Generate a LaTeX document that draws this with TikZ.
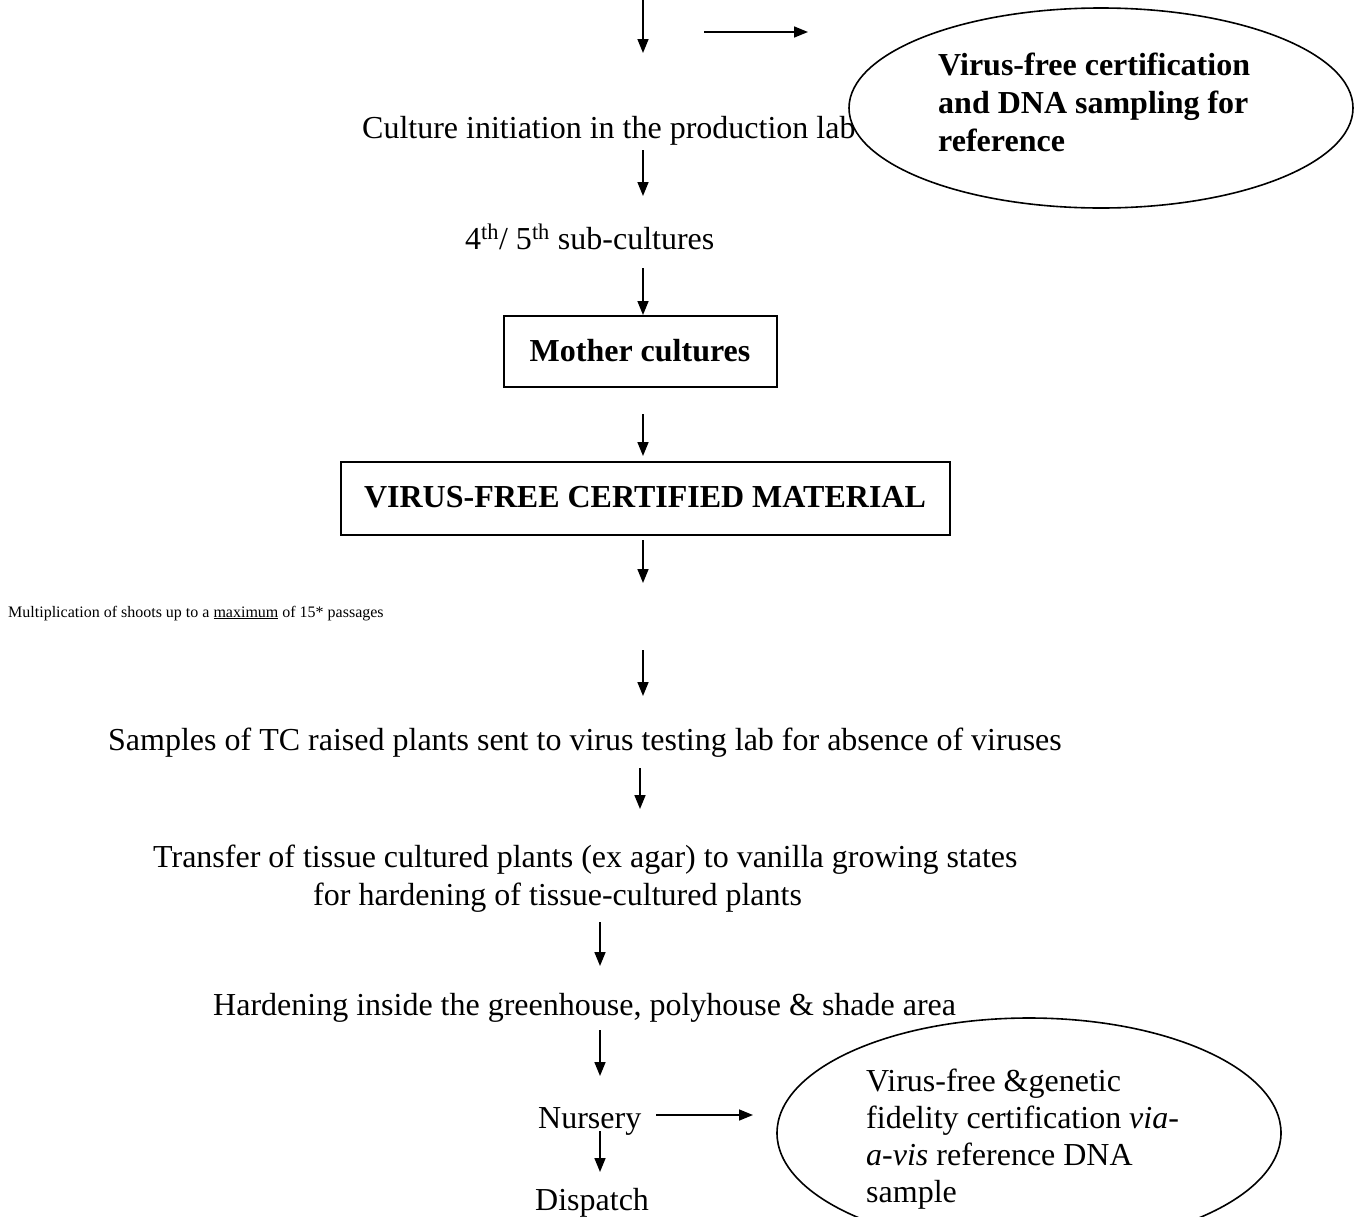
\documentclass[tikz,border=0pt]{standalone}
\usepackage{fontspec}
\setmainfont{Liberation Serif}
\usetikzlibrary{arrows.meta,shapes.geometric}
\begin{document}
\begin{tikzpicture}[x=1pt,y=-1pt,
  txt/.style={inner sep=0pt,anchor=base west,font=\fontsize{32}{38}\selectfont},
  btxt/.style={inner sep=0pt,anchor=base west,font=\fontsize{32}{38}\selectfont\bfseries},
  stxt/.style={inner sep=0pt,anchor=base west,font=\fontsize{16}{19}\selectfont},
  boxed/.style={draw,line width=2pt,inner sep=0pt},
  oval/.style={draw,ellipse,line width=1.6pt,inner sep=0pt},
  flow/.style={line width=1.6pt,-{Triangle[length=14pt,width=11pt]}}]
\useasboundingbox (0,0) rectangle (1363,1216);

% shapes
\node[oval,minimum width=504pt,minimum height=200pt] (ell1) at (1101,108) {};
\node[oval,minimum width=504pt,minimum height=230pt] (ell2) at (1029,1133) {};
\node[boxed,minimum width=273pt,minimum height=71pt] (mother) at (640.5,351.5) {};
\node[btxt,anchor=base] (mothert) at (640,361) {Mother cultures};
\node[boxed,minimum width=609pt,minimum height=73pt] (vfcm) at (645.5,498.5) {};
\node[btxt,anchor=base] (vfcmt) at (645,507) {VIRUS-FREE CERTIFIED MATERIAL};

% texts
\node[btxt] (e1a) at (938,75) {Virus-free certification};
\node[btxt] (e1b) at (938,113) {and DNA sampling for};
\node[btxt] (e1c) at (938,151) {reference};
\node[txt] (culture) at (362,138) {Culture initiation in the production lab};
\node[txt] (sub) at (465,249) {4\textsuperscript{th}/ 5\textsuperscript{th} sub-cultures};
\node[stxt] (mult) at (8,617) {Multiplication of shoots up to a \underline{maximum} of 15* passages};
\node[txt] (samples) at (108,750) {Samples of TC raised plants sent to virus testing lab for absence of viruses};
\node[txt] (transfer) at (153,867) {Transfer of tissue cultured plants (ex agar) to vanilla growing states};
\node[txt] (transfer2) at (313,905) {for hardening of tissue-cultured plants};
\node[txt] (harden) at (213,1015) {Hardening inside the greenhouse, polyhouse \& shade area};
\node[txt] (nursery) at (538,1128) {Nursery};
\node[txt] (dispatch) at (535,1210) {Dispatch};
\node[txt] (e2a) at (866,1091) {Virus-free \&genetic};
\node[txt] (e2b) at (866,1128) {fidelity certification \textit{via-}};
\node[txt] (e2c) at (866,1165) {\textit{a-vis} reference DNA};
\node[txt] (e2d) at (866,1202) {sample};

% arrow end points
\coordinate (a0s) at (643,0);    \coordinate (a0e) at (643,53);
\coordinate (h1s) at (704,32);   \coordinate (h1e) at (808,32);
\coordinate (a1s) at (643,150);  \coordinate (a1e) at (643,196);
\coordinate (a2s) at (643,268);
\coordinate (a3s) at (643,414);  \coordinate (a3e) at (643,456);
\coordinate (a4s) at (643,540);  \coordinate (a4e) at (643,583);
\coordinate (a5s) at (643,650);  \coordinate (a5e) at (643,696);
\coordinate (a6s) at (640,768);  \coordinate (a6e) at (640,809);
\coordinate (a7s) at (600,922);  \coordinate (a7e) at (600,966);
\coordinate (a8s) at (600,1030); \coordinate (a8e) at (600,1076);
\coordinate (a9s) at (600,1131); \coordinate (a9e) at (600,1172);
\coordinate (h2s) at (656,1115); \coordinate (h2e) at (753,1115);

\draw[flow] (a0s) -- (a0e);
\draw[flow] (h1s) -- (h1e);
\draw[flow] (a1s) -- (a1e);
\draw[flow] (a2s) -- (mother.north -| a2s);
\draw[flow] (a3s) -- (a3e);
\draw[flow] (a4s) -- (a4e);
\draw[flow] (a5s) -- (a5e);
\draw[flow] (a6s) -- (a6e);
\draw[flow] (a7s) -- (a7e);
\draw[flow] (a8s) -- (a8e);
\draw[flow] (a9s) -- (a9e);
\draw[flow] (h2s) -- (h2e);
\end{tikzpicture}
\end{document}
